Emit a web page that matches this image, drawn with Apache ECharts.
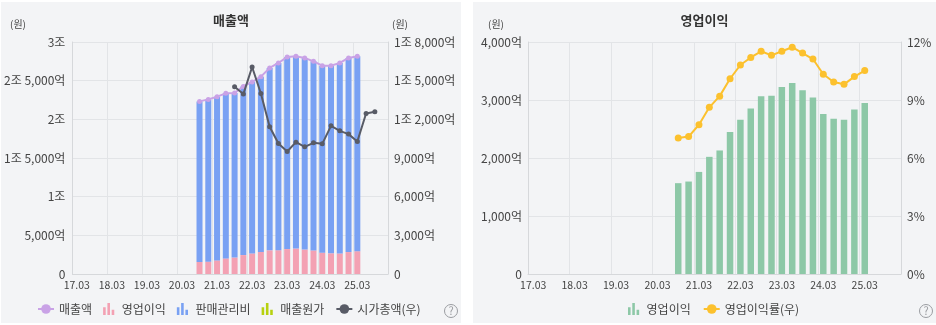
<!DOCTYPE html>
<html><head><meta charset="utf-8">
<script src="https://cdn.jsdelivr.net/npm/echarts@6/dist/echarts.min.js"></script>
<style>
html,body{margin:0;padding:0;background:#fff;width:936px;height:325px;overflow:hidden;}
#c1{position:absolute;left:1px;top:2px;width:460px;height:321px;background:#f3f4f6;}
#c2{position:absolute;left:473px;top:2px;width:463px;height:321px;background:#f3f4f6;}
</style></head><body>
<div id="c1"></div><div id="c2"></div>
<script>
// ---- DATA ----
const quarters = ['17.03','17.06','17.09','17.12','18.03','18.06','18.09','18.12','19.03','19.06','19.09','19.12',
  '20.03','20.06','20.09','20.12','21.03','21.06','21.09','21.12','22.03','22.06','22.09','22.12',
  '23.03','23.06','23.09','23.12','24.03','24.06','24.09','24.12','25.03','25.06','25.09','25.12'];
const finStart = 14;      // first reported quarter: 20.09
const mcapStart = 18;     // first market-cap point: 21.09
// 억원
const revenue   = [22320,22580,22930,23360,23400,24260,24830,25520,26640,27290,28070,28150,27940,27500,26940,26940,27290,27940,28150];
const opProfit  = [1566,1594,1760,2020,2130,2447,2660,2855,3063,3074,3224,3293,3166,3045,2758,2677,2660,2838,2948];
const sga       = [20754,20986,21170,21340,21270,21813,22170,22665,23577,24216,24846,24857,24774,24455,24182,24263,24630,25102,25202];
const cogs      = [];
const marketCap = [14527,13960,16058,14007,11420,10123,9501,10231,9866,10177,10099,11497,11109,10853,10278,12453,12585];
// %
const opMargin  = [7.03,7.11,7.72,8.62,9.2,10.1,10.81,11.2,11.52,11.31,11.52,11.73,11.43,11.12,10.33,9.93,9.81,10.21,10.52];

// ---- HELPERS ----
const pad = (start, arr) => quarters.map((_, i) => (i >= start && i - start < arr.length) ? arr[i - start] : null);
const comma = n => String(n).replace(/\B(?=(\d{3})+(?!\d))/g, ',');
const fmtWon = v => {
  if (v === 0) return '0';
  const jo = Math.floor(v / 10000), eok = v % 10000;
  let s = '';
  if (jo) s += jo + '조';
  if (eok) s += (s ? ' ' : '') + comma(eok) + '억';
  return s;
};
const FONT = "'Noto Sans CJK KR', 'Noto Sans', sans-serif";
const GRID = '#e2e4e7';
const AXIS = '#d6d8db';
const barIcon = 'path://M0,5h3v9h-3z M5,0h3v14h-3z M10,8h3v6h-3z';

function xAxisCfg() {
  return {
    type: 'category', data: quarters, boundaryGap: true,
    axisLine: { show: true, lineStyle: { color: AXIS } },
    axisTick: { show: false },
    axisLabel: { interval: 3, color: '#444', fontSize: 10.5, fontFamily: FONT, margin: 6 },
    splitLine: { show: true, interval: 3, lineStyle: { color: GRID } }
  };
}
function help(x, y) {
  return [
    { type: 'circle', shape: { cx: x, cy: y, r: 6.5 }, style: { fill: 'none', stroke: '#9a9ca0', lineWidth: 1 } },
    { type: 'text', x: x, y: y, style: { text: '?', fill: '#9a9ca0', font: '11px ' + FONT, align: 'center', verticalAlign: 'middle' } }
  ];
}
function unit(x, y) {
  return { type: 'text', x: x, y: y, style: { text: '(원)', fill: '#444', font: '10px ' + FONT, align: 'center', verticalAlign: 'middle' } };
}

// ---- LEFT CHART ----
const ch1 = echarts.init(document.getElementById('c1'), null, { renderer: 'canvas' });
ch1.setOption({
  animation: false,
  textStyle: { fontFamily: FONT },
  title: { text: '매출액', left: 'center', top: 7, textStyle: { fontSize: 13, fontWeight: 'bold', color: '#333', fontFamily: FONT } },
  grid: { left: 69, right: 73, top: 40, bottom: 49 },
  xAxis: xAxisCfg(),
  yAxis: [
    { type: 'value', min: 0, max: 30000, interval: 5000,
      axisLine: { show: true, lineStyle: { color: AXIS } }, axisTick: { show: false },
      axisLabel: { formatter: fmtWon, color: '#444', fontSize: 12, fontFamily: FONT, margin: 7 },
      splitLine: { show: true, lineStyle: { color: GRID } } },
    { type: 'value', min: 0, max: 18000, interval: 3000, position: 'right',
      axisLine: { show: true, lineStyle: { color: AXIS } }, axisTick: { show: false },
      axisLabel: { formatter: fmtWon, color: '#444', fontSize: 12, fontFamily: FONT, margin: 6 },
      splitLine: { show: false } }
  ],
  legend: {
    bottom: 3, left: 31, itemGap: 11, itemWidth: 16, itemHeight: 12,
    textStyle: { color: '#444', fontSize: 12, fontFamily: FONT },
    data: [
      { name: '매출액' },
      { name: '영업이익', icon: barIcon },
      { name: '판매관리비', icon: barIcon },
      { name: '매출원가', icon: barIcon },
      { name: '시가총액(우)' }
    ]
  },
  graphic: [unit(17, 22), unit(399, 22)].concat(help(450, 309)),
  series: [
    { name: '영업이익', type: 'bar', stack: 'fin', barWidth: 6, data: pad(finStart, opProfit), itemStyle: { color: '#f3a1b3' } },
    { name: '판매관리비', type: 'bar', stack: 'fin', barWidth: 6, data: pad(finStart, sga), itemStyle: { color: '#79a1f3' } },
    { name: '매출원가', type: 'bar', stack: 'fin', barWidth: 6, data: pad(finStart, cogs), itemStyle: { color: '#b7d10f' } },
    { name: '매출액', type: 'line', data: pad(finStart, revenue), symbol: 'circle', symbolSize: 5, showAllSymbol: true, z: 5,
      itemStyle: { color: '#c9a2e6' }, lineStyle: { color: '#c9a2e6', width: 2 } },
    { name: '시가총액(우)', type: 'line', yAxisIndex: 1, data: pad(mcapStart, marketCap), symbol: 'circle', symbolSize: 5, showAllSymbol: true, z: 6,
      itemStyle: { color: '#585b66' }, lineStyle: { color: '#585b66', width: 2 } }
  ]
});

// ---- RIGHT CHART ----
const ch2 = echarts.init(document.getElementById('c2'), null, { renderer: 'canvas' });
ch2.setOption({
  animation: false,
  textStyle: { fontFamily: FONT },
  title: { text: '영업이익', left: 'center', top: 7, textStyle: { fontSize: 13, fontWeight: 'bold', color: '#333', fontFamily: FONT } },
  grid: { left: 55, right: 35, top: 40, bottom: 49 },
  xAxis: xAxisCfg(),
  yAxis: [
    { type: 'value', min: 0, max: 4000, interval: 1000,
      axisLine: { show: true, lineStyle: { color: AXIS } }, axisTick: { show: false },
      axisLabel: { formatter: fmtWon, color: '#444', fontSize: 12, fontFamily: FONT, margin: 6 },
      splitLine: { show: true, lineStyle: { color: GRID } } },
    { type: 'value', min: 0, max: 12, interval: 3, position: 'right',
      axisLine: { show: true, lineStyle: { color: AXIS } }, axisTick: { show: false },
      axisLabel: { formatter: '{value}%', color: '#444', fontSize: 12, fontFamily: FONT, margin: 6 },
      splitLine: { show: false } }
  ],
  legend: {
    bottom: 3, left: 150, itemGap: 12, itemWidth: 16, itemHeight: 12,
    textStyle: { color: '#444', fontSize: 12, fontFamily: FONT },
    data: [ { name: '영업이익', icon: barIcon }, { name: '영업이익률(우)' } ]
  },
  graphic: [unit(23, 22)].concat(help(453, 309)),
  series: [
    { name: '영업이익', type: 'bar', barWidth: 6.5, data: pad(finStart, opProfit), itemStyle: { color: '#8dc8a7' } },
    { name: '영업이익률(우)', type: 'line', yAxisIndex: 1, data: pad(finStart, opMargin), symbol: 'circle', symbolSize: 7, showAllSymbol: true, z: 5,
      itemStyle: { color: '#fcc12e' }, lineStyle: { color: '#fcc12e', width: 2 } }
  ]
});
</script>
</body></html>
